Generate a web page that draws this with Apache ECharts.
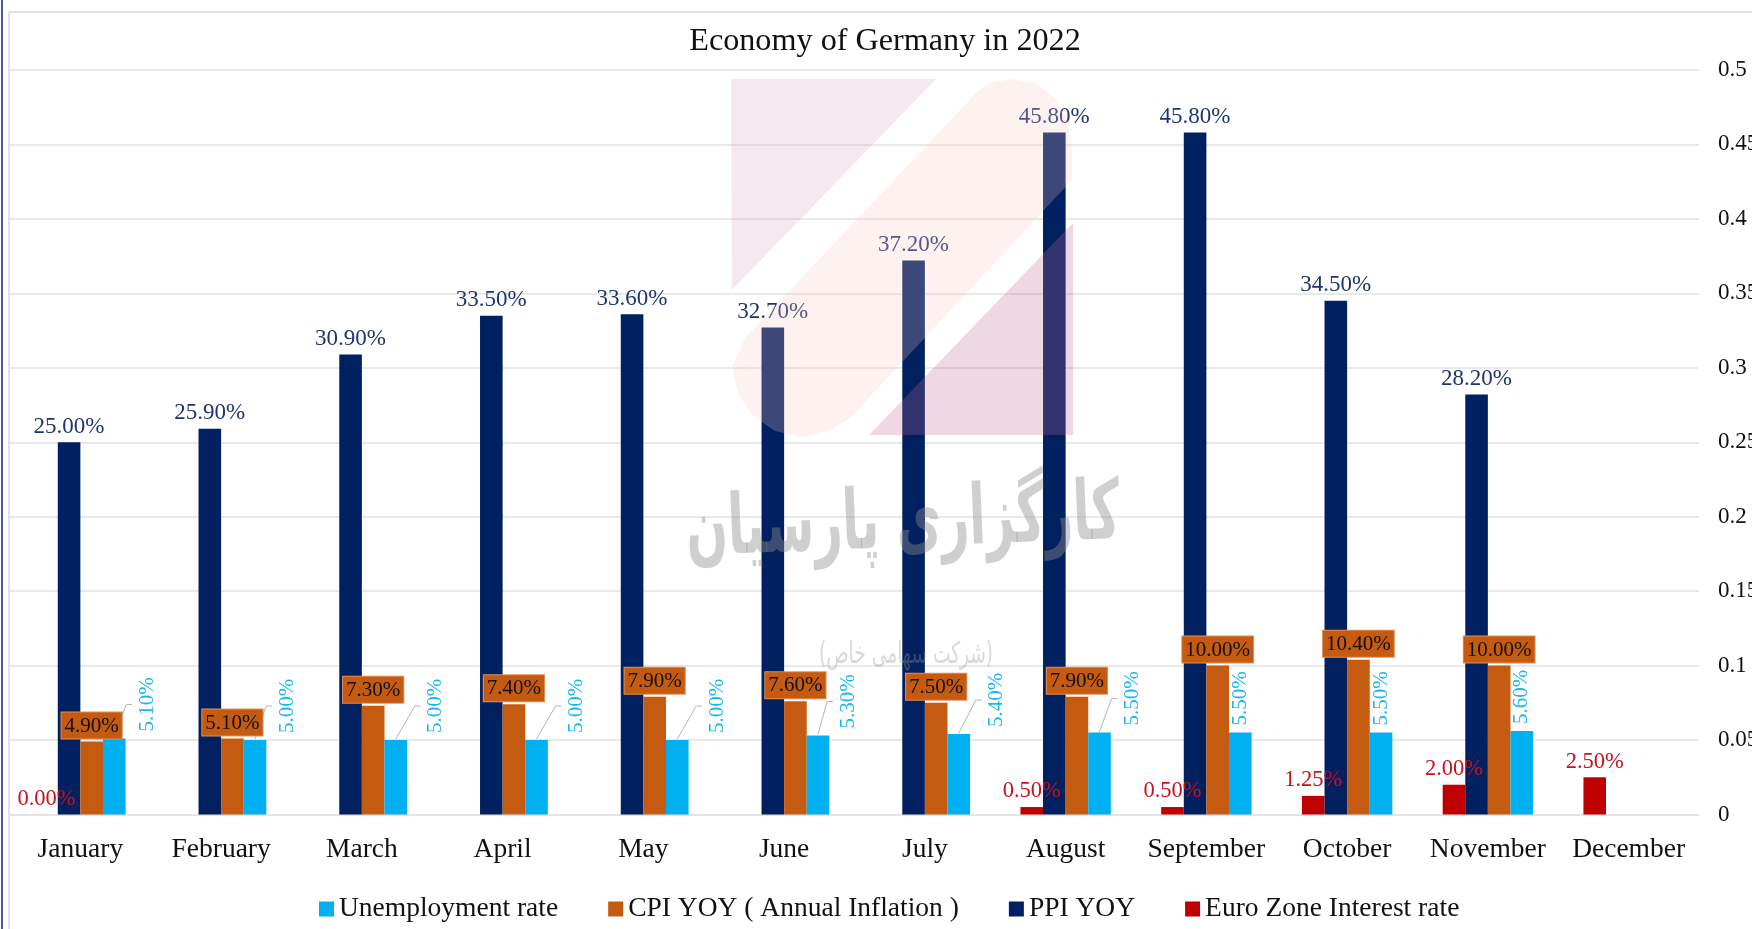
<!DOCTYPE html>
<html>
<head>
<meta charset="utf-8">
<title>Economy of Germany in 2022</title>
<script src="https://cdn.jsdelivr.net/npm/echarts@6/dist/echarts.min.js"></script>
<style>
  html, body { margin: 0; padding: 0; background: #fff; overflow: hidden; }
  #chart { width: 1752px; height: 929px; }
</style>
</head>
<body>
<div id="chart"></div>
<script>
const months = ['January', 'February', 'March', 'April', 'May', 'June', 'July', 'August', 'September', 'October', 'November', 'December'];
const unemployment = [0.051, 0.05, 0.05, 0.05, 0.05, 0.053, 0.054, 0.055, 0.055, 0.055, 0.056, null];
const cpi = [0.049, 0.051, 0.073, 0.074, 0.079, 0.076, 0.075, 0.079, 0.1, 0.104, 0.1, null];
const ppi = [0.25, 0.259, 0.309, 0.335, 0.336, 0.327, 0.372, 0.458, 0.458, 0.345, 0.282, null];
const euroRate = [0, null, null, null, null, null, null, 0.005, 0.005, 0.0125, 0.02, 0.025];

// how far the rotated unemployment labels sit right of their bar (px), 0 = no leader line
const cyanLabelShift = [33, 32, 40, 40, 40, 30, 38, 33, 0, 0, 0, 0];

const FONT = '"Liberation Serif", "Times New Roman", serif';
const BAR_W = 22.6;
const pct = (p) => (p.value * 100).toFixed(2) + '%';

const chart = echarts.init(document.getElementById('chart'), null, { renderer: 'canvas' });

chart.setOption({
  animation: false,
  backgroundColor: '#fff',
  title: {
    text: 'Economy of Germany in 2022',
    left: 880,
    top: 21,
    textAlign: 'center',
    textStyle: { fontFamily: FONT, fontSize: 32.2, fontWeight: 'normal', color: '#111' },
  },
  legend: {
    left: 314,
    top: 890,
    itemWidth: 15,
    itemHeight: 15,
    itemGap: 50,
    icon: 'rect',
    data: ['Unemployment rate', 'CPI YOY ( Annual Inflation )', 'PPI YOY', 'Euro Zone Interest rate'],
    textStyle: { fontFamily: FONT, fontSize: 27.5, color: '#111' },
  },
  grid: { left: 10, right: 53, top: 70, bottom: 114.5, outerBoundsMode: 'none' },
  xAxis: {
    type: 'category',
    data: months,
    axisLine: { lineStyle: { color: '#E2E2E2', width: 1.5 } },
    axisTick: { show: false },
    axisLabel: { fontFamily: FONT, fontSize: 27.5, color: '#111', margin: 21, interval: 0 },
  },
  yAxis: {
    type: 'value',
    position: 'right',
    min: 0,
    max: 0.5,
    interval: 0.05,
    axisLine: { show: false },
    axisTick: { show: false },
    splitLine: { lineStyle: { color: '#E2E2E2', width: 1.5 } },
    axisLabel: { fontFamily: FONT, fontSize: 23, color: '#111', margin: 19, padding: [4, 0, 0, 0], formatter: (v) => String(+v.toFixed(2)) },
  },
  series: [
    {
      name: 'Euro Zone Interest rate',
      type: 'bar',
      data: euroRate,
      barWidth: BAR_W,
      barGap: 0,
      itemStyle: { color: '#C00000' },
      label: { show: true, position: 'top', distance: 4, formatter: pct, fontFamily: FONT, fontSize: 22.5, color: '#C8101E' },
    },
    {
      name: 'PPI YOY',
      type: 'bar',
      data: ppi,
      barWidth: BAR_W,
      barGap: 0,
      itemStyle: { color: '#002060' },
      label: { show: true, position: 'top', distance: 4, formatter: pct, fontFamily: FONT, fontSize: 23, color: '#1F3470' },
    },
    {
      name: 'CPI YOY ( Annual Inflation )',
      type: 'bar',
      data: cpi,
      barWidth: BAR_W,
      barGap: 0,
      itemStyle: { color: '#C55A11' },
      label: {
        show: true,
        position: 'top',
        distance: 3,
        formatter: pct,
        fontFamily: FONT,
        fontSize: 21,
        color: '#111',
        backgroundColor: '#C55A11',
        borderColor: '#E0905A',
        borderWidth: 1,
        padding: [3, 3, 2, 3],
      },
    },
    {
      name: 'Unemployment rate',
      type: 'bar',
      data: unemployment,
      barWidth: BAR_W,
      barGap: 0,
      itemStyle: { color: '#00B0F0' },
      label: {
        show: true,
        position: 'top',
        rotate: 90,
        align: 'left',
        verticalAlign: 'middle',
        distance: 7,
        formatter: pct,
        fontFamily: FONT,
        fontSize: 21,
        color: '#19B7F2',
      },
      // the label is rotated, so its local y runs to the right on screen
      labelLayout: (p) => ({ dy: cyanLabelShift[p.dataIndex] }),
    },
    {
      // leader lines from the unemployment bars out to their shifted labels
      type: 'custom',
      silent: true,
      z: 1,
      data: unemployment.map((v, i) => [i, v]).filter((d, i) => cyanLabelShift[i] > 0),
      encode: { x: 0, y: 1 },
      renderItem: (params, api) => {
        const top = api.coord([api.value(0), api.value(1)]);
        const x = top[0] + BAR_W * 1.5;
        const run = cyanLabelShift[api.value(0)] - 21;
        return {
          type: 'polyline',
          shape: { points: [[x, top[1] - 1], [x + run, top[1] - 34], [x + run + 6, top[1] - 34]] },
          style: { fill: 'none', stroke: '#B5B5B5', lineWidth: 1 },
        };
      },
    },
  ],
  graphic: [
    // frame
    { type: 'line', z: 0, shape: { x1: 2, y1: 0, x2: 2, y2: 929 }, style: { stroke: '#1F3B80', lineWidth: 1.6 } },
    { type: 'line', z: 0, shape: { x1: 9, y1: 12, x2: 9, y2: 929 }, style: { stroke: '#D9D9D9', lineWidth: 1.5 } },
    { type: 'line', z: 0, shape: { x1: 9, y1: 12, x2: 1752, y2: 12 }, style: { stroke: '#D9D9D9', lineWidth: 1.5 } },
    // watermark logo
    {
      type: 'polygon', z: 20, silent: true,
      shape: { points: [[731, 79], [936, 79], [732, 290]] },
      style: { fill: 'rgba(195,130,175,0.18)' },
    },
    {
      type: 'polygon', z: 20, silent: true,
      shape: { points: [[745, 338], [979, 90], [990, 83], [1011, 79], [1035, 83], [1055, 98], [1068, 122], [1072, 150], [1072, 180], [850, 418], [829, 431], [802, 437], [775, 431], [753, 416], [738, 394], [732, 367]] },
      style: { fill: 'rgba(250,200,195,0.24)' },
    },
    {
      type: 'polygon', z: 20, silent: true,
      shape: { points: [[1073, 223], [1073, 435], [869, 435]] },
      style: { fill: 'rgba(195,105,150,0.26)' },
    },
    // watermark text
    {
      type: 'text', z: 21, silent: true, x: 903, y: 525, rotation: 0.04, scaleX: 0.68, scaleY: 1.15,
      style: {
        text: 'کارگزاری پارسیان',
        font: 'bold 72px "DejaVu Sans"',
        fill: 'rgba(140,140,140,0.42)',
        align: 'center',
        verticalAlign: 'middle',
        shadowBlur: 4,
        shadowColor: 'rgba(140,140,140,0.45)',
      },
    },
    {
      type: 'text', z: 21, silent: true, x: 906, y: 655, scaleX: 0.62,
      style: {
        text: '(شرکت سهامی خاص)',
        font: '30px "DejaVu Sans"',
        fill: 'rgba(150,150,150,0.36)',
        align: 'center',
        verticalAlign: 'middle',
        shadowBlur: 3,
        shadowColor: 'rgba(150,150,150,0.4)',
      },
    },
  ],
});
</script>
</body>
</html>
